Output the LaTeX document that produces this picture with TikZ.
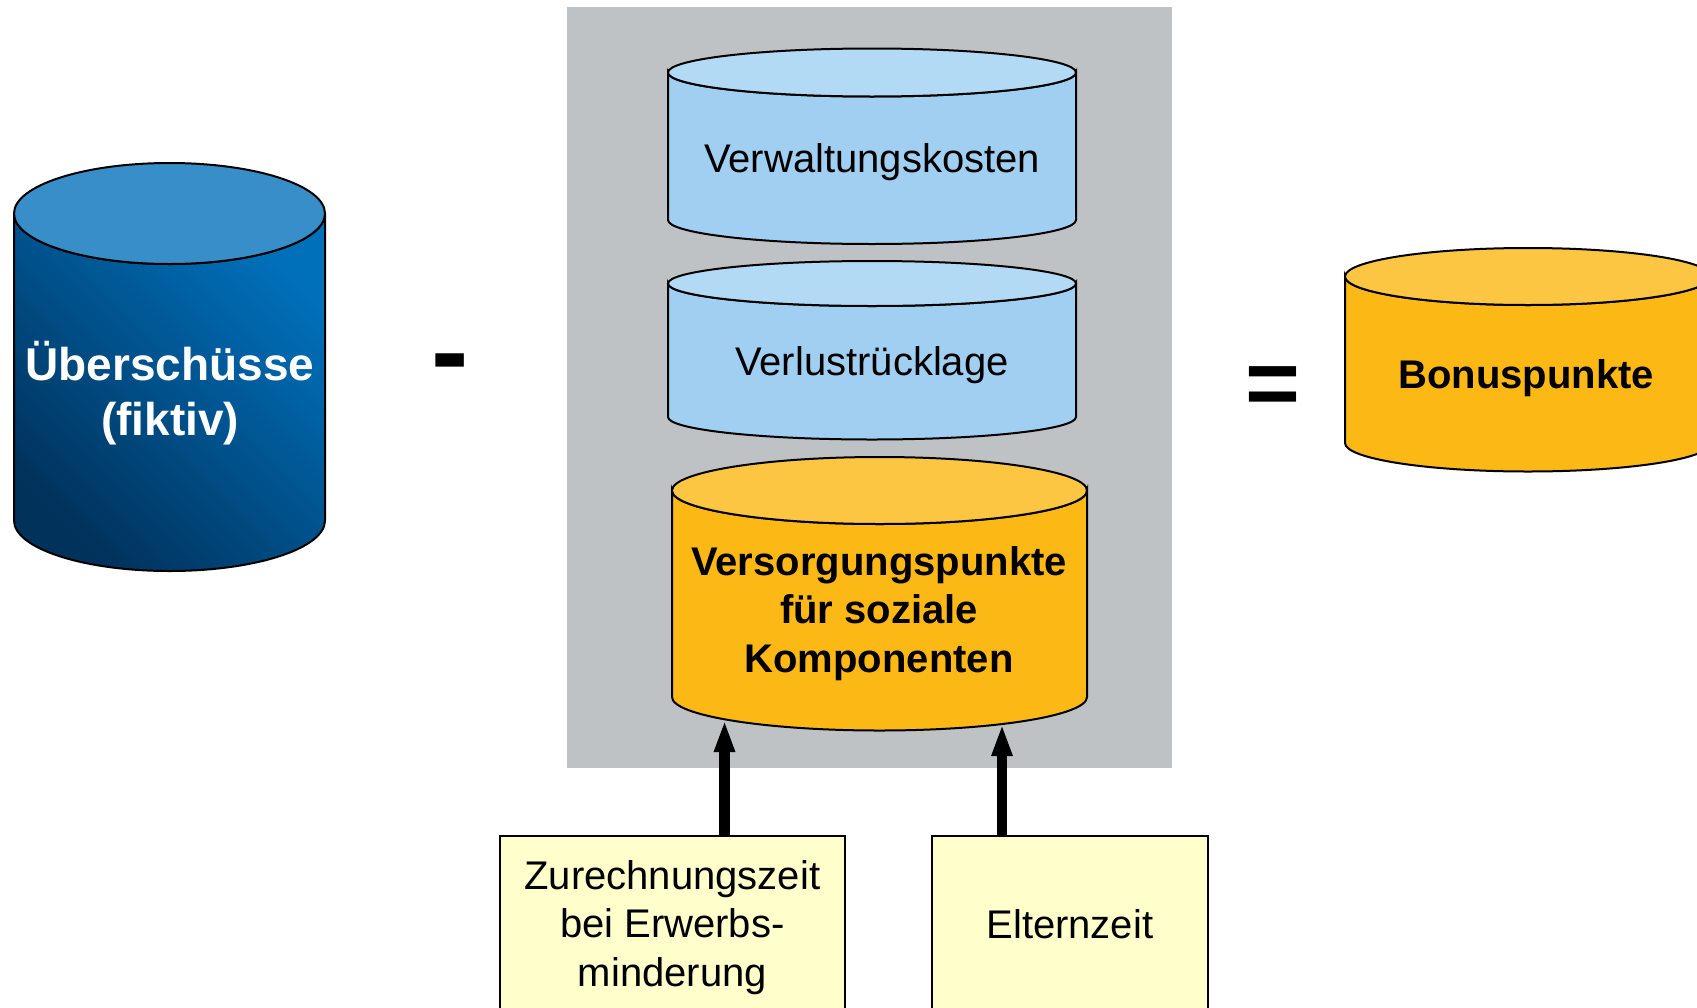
\documentclass[tikz,border=0pt]{standalone}
\usepackage{fontspec}
\setmainfont{Liberation Sans}
\usetikzlibrary{arrows.meta}
\definecolor{grayback}{RGB}{191,194,197}
\definecolor{bluedark}{RGB}{0,50,92}
\definecolor{bluebright}{RGB}{0,112,186}
\definecolor{bluetop}{RGB}{56,142,200}
\definecolor{lbbody}{RGB}{160,207,241}
\definecolor{lbtop}{RGB}{179,218,245}
\definecolor{orbody}{RGB}{252,185,21}
\definecolor{ortop}{RGB}{252,198,66}
\definecolor{paleyellow}{RGB}{255,255,204}
\newcommand\mycyl[7]{%
  \path[#6] (#1-#4,#2) -- (#1-#4,#3) arc[start angle=180,end angle=0,x radius=#4,y radius=#5] -- (#1+#4,#2) arc[start angle=0,end angle=180,x radius=#4,y radius=#5] -- cycle;
  \path[#7] (#1,#2) ellipse[x radius=#4,y radius=#5];}
\begin{document}
\begin{tikzpicture}[x=1pt,y=-1pt,
  outl/.style={draw=black,line width=2pt},
  lbl/.style={anchor=base,inner sep=0pt},
  reg/.style={font=\fontsize{40}{48.5}\selectfont},
  bld/.style={font=\bfseries\fontsize{40}{48.5}\selectfont},
  infobox/.style={draw=black,line width=1.6pt,fill=paleyellow,anchor=north west,inner sep=0pt,align=center,font=\fontsize{40}{48.5}\selectfont},
  arr/.style={line width=10.5pt,-{Triangle[length=32pt,width=19pt]}}]
\useasboundingbox (0,0) rectangle (1697,1007);
\clip (0,0) rectangle (1697,1007);
\fill[grayback] (567,7) rectangle (1172,768);
% cylinders
\mycyl{169.5}{213.5}{520.5}{155.5}{50.5}{outl,top color=bluebright,bottom color=bluedark,shading angle=-45}{outl,fill=bluetop}
\mycyl{872}{72.5}{220}{204}{24}{outl,fill=lbbody}{outl,fill=lbtop}
\mycyl{872}{283.5}{417}{204}{22.5}{outl,fill=lbbody}{outl,fill=lbtop}
\mycyl{879.5}{490.5}{697}{207.5}{33.5}{outl,fill=orbody}{outl,fill=ortop}
\mycyl{1528}{276.5}{443}{183}{28.5}{outl,fill=orbody}{outl,fill=ortop}
% texts
\node[lbl,text=white,font=\bfseries\fontsize{46}{55}\selectfont] (ueb) at (170,380) {\begin{tabular}[t]{@{}c@{}}Überschüsse\\(fiktiv)\end{tabular}};
\node[lbl,reg] (verw) at (872,172) {Verwaltungskosten};
\node[lbl,reg] (verl) at (872,375) {Verlustrücklage};
\node[lbl,bld] (vers) at (879,575) {\begin{tabular}[t]{@{}c@{}}Versorgungspunkte\\für soziale\\Komponenten\end{tabular}};
\node[lbl,bld] (bonus) at (1526,388) {Bonuspunkte};
\node[lbl,font=\bfseries\fontsize{112}{112}\selectfont] (minus) at (450.5,389.5) {-};
\node[lbl,font=\bfseries\fontsize{94}{94}\selectfont] (equals) at (1272.5,415) {=};
% boxes
\node[infobox,minimum width=345pt,minimum height=177pt] (zur) at (499,835) {\raisebox{-3.5pt}[\height][\depth]{\begin{tabular}{@{}c@{}}Zurechnungszeit\\bei Erwerbs-\\minderung\end{tabular}}};
\node[infobox,minimum width=276pt,minimum height=177pt] (eltern) at (931,835) {Elternzeit};
% arrows
\coordinate (t1) at (724.5,720);
\coordinate (t2) at (1002,724);
\draw[arr] (t1 |- zur.north) -- (t1);
\draw[arr] (t2 |- eltern.north) -- (t2);
\end{tikzpicture}
\end{document}
